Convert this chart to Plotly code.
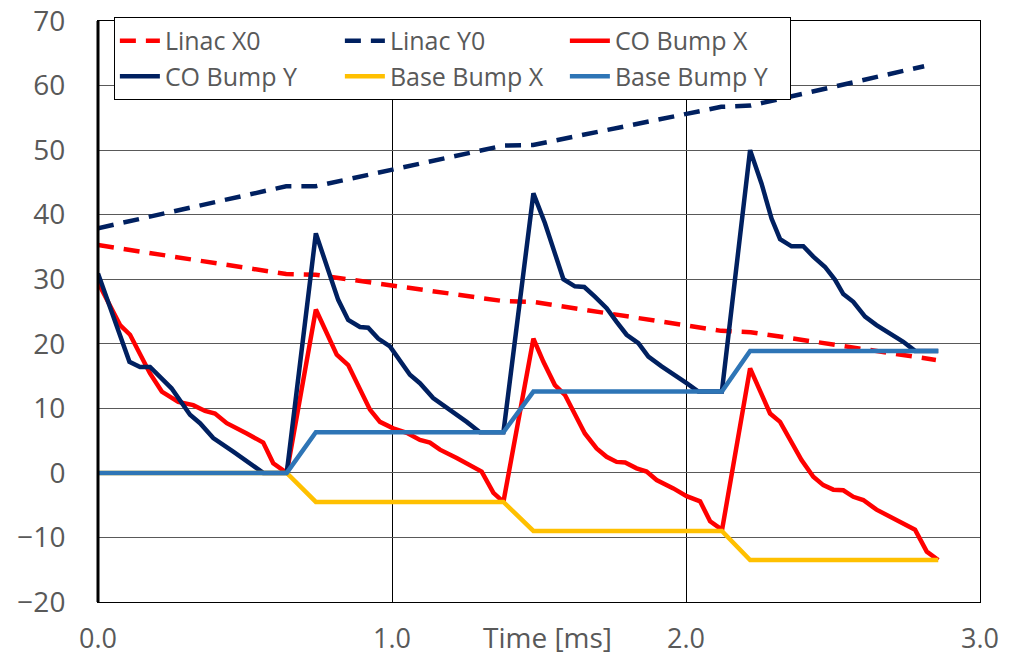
import plotly.graph_objects as go

# ---- data (time in ms) ----
linac_x0_t = [0.0, 0.64, 0.74, 1.38, 1.48, 2.12, 2.22, 2.85]
linac_x0_v = [35.3, 30.8, 30.7, 26.6, 26.5, 22.0, 21.8, 17.5]

linac_y0_t = [0.0, 0.64, 0.74, 1.38, 1.48, 2.12, 2.22, 2.81]
linac_y0_v = [37.9, 44.4, 44.4, 50.7, 50.8, 56.7, 56.9, 63.0]

co_x_t = [0.0, 0.075, 0.109, 0.177, 0.217, 0.273, 0.324, 0.364, 0.398, 0.438, 0.506, 0.562, 0.596, 0.63, 0.642,
          0.741, 0.778, 0.812, 0.851, 0.885, 0.925, 0.959, 1.004, 1.05, 1.095, 1.129, 1.163, 1.22, 1.265, 1.305, 1.345, 1.379,
          1.481, 1.515, 1.554, 1.588, 1.656, 1.696, 1.73, 1.764, 1.793, 1.832, 1.866, 1.9, 1.957, 2.002, 2.048, 2.082, 2.116, 2.122,
          2.218, 2.286, 2.32, 2.393, 2.433, 2.467, 2.501, 2.535, 2.569, 2.603, 2.648, 2.716, 2.779, 2.819, 2.852, 2.858]
co_x_v = [29.5, 22.9, 21.4, 15.4, 12.6, 11.0, 10.5, 9.6, 9.2, 7.7, 6.1, 4.7, 1.5, 0.5, 0.0,
          25.3, 21.6, 18.3, 16.7, 13.6, 9.8, 7.9, 6.9, 6.2, 5.1, 4.7, 3.6, 2.3, 1.2, 0.2, -3.1, -4.5,
          20.8, 17.2, 13.6, 12.1, 6.1, 3.8, 2.5, 1.7, 1.6, 0.7, 0.2, -1.1, -2.4, -3.6, -4.4, -7.5, -8.6, -9.0,
          16.2, 9.2, 7.9, 2.0, -0.6, -1.9, -2.6, -2.7, -3.7, -4.2, -5.7, -7.3, -8.8, -12.2, -13.2, -13.5]

co_y_t = [0.0, 0.107, 0.143, 0.177, 0.25, 0.313, 0.347, 0.392, 0.46, 0.528, 0.562, 0.642,
          0.741, 0.817, 0.851, 0.891, 0.919, 0.953, 0.993, 1.061, 1.095, 1.14, 1.197, 1.254, 1.299, 1.379,
          1.481, 1.52, 1.554, 1.583, 1.622, 1.654, 1.69, 1.73, 1.764, 1.798, 1.838, 1.872, 1.917, 1.963, 2.002, 2.042, 2.122,
          2.218, 2.257, 2.291, 2.32, 2.359, 2.399, 2.433, 2.473, 2.507, 2.535, 2.569, 2.609, 2.648, 2.694, 2.739, 2.779, 2.858]
co_y_v = [30.9, 17.2, 16.4, 16.4, 13.1, 9.0, 7.7, 5.4, 3.3, 1.2, 0.0, 0.0,
          37.1, 26.8, 23.7, 22.6, 22.5, 20.8, 19.6, 15.2, 13.9, 11.6, 9.8, 7.9, 6.3, 6.3,
          43.3, 38.7, 34.0, 30.0, 28.9, 28.8, 27.3, 25.5, 23.4, 21.4, 20.1, 18.0, 16.5, 15.2, 13.9, 12.6, 12.6,
          50.0, 44.8, 39.4, 36.2, 35.1, 35.1, 33.5, 31.9, 29.9, 27.7, 26.5, 24.2, 22.9, 21.6, 20.3, 18.9, 18.9]

base_t = [0.0, 0.642, 0.741, 1.379, 1.481, 2.122, 2.218, 2.858]
base_x_v = [0.0, 0.0, -4.5, -4.5, -9.0, -9.0, -13.5, -13.5]
base_y_v = [0.0, 0.0, 6.3, 6.3, 12.6, 12.6, 18.9, 18.9]

x_ticks = [0, 1, 2, 3]
x_tick_labels = ["0.0", "1.0", "2.0", "3.0"]

RED = "#FF0000"
NAVY = "#002060"
YELLOW = "#FFC000"
BLUE = "#2E75B6"
GREY = "#595959"
FONT = "Open Sans"

fig = go.Figure()
fig.add_trace(go.Scatter(x=linac_x0_t, y=linac_x0_v, mode="lines", name="Linac X0",
                         line=dict(color=RED, width=4.5, dash="16px,10px")))
fig.add_trace(go.Scatter(x=linac_y0_t, y=linac_y0_v, mode="lines", name="Linac Y0",
                         line=dict(color=NAVY, width=4.5, dash="16px,10px")))
fig.add_trace(go.Scatter(x=co_x_t, y=co_x_v, mode="lines", name="CO Bump X",
                         line=dict(color=RED, width=4.5)))
fig.add_trace(go.Scatter(x=co_y_t, y=co_y_v, mode="lines", name="CO Bump Y",
                         line=dict(color=NAVY, width=4.5)))
fig.add_trace(go.Scatter(x=base_t, y=base_x_v, mode="lines", name="Base Bump X",
                         line=dict(color=YELLOW, width=4.5)))
fig.add_trace(go.Scatter(x=base_t, y=base_y_v, mode="lines", name="Base Bump Y",
                         line=dict(color=BLUE, width=4.5)))

fig.update_layout(
    width=1021, height=656,
    margin=dict(l=98, r=41, t=21, b=54),
    paper_bgcolor="white", plot_bgcolor="white",
    font=dict(family=FONT, color=GREY, size=26),
    showlegend=True,
    legend=dict(
        orientation="h", x=0.018, y=1.007, xanchor="left", yanchor="top",
        entrywidth=170, entrywidthmode="pixels", itemwidth=40,
        bgcolor="white", bordercolor="black", borderwidth=1,
        font=dict(family=FONT, color=GREY, size=25),
        traceorder="normal",
    ),
    xaxis=dict(
        range=[0, 3], tickvals=x_ticks, ticktext=x_tick_labels,
        showgrid=True, gridcolor="black", gridwidth=1, zeroline=False,
        showline=True, linecolor="black", linewidth=1, mirror=True,
        ticks="outside", ticklen=13, tickcolor="rgba(0,0,0,0)",
        tickfont=dict(family=FONT, color=GREY, size=27), automargin=False,
    ),
    yaxis=dict(
        range=[-20, 70], dtick=10,
        showgrid=True, gridcolor="#595959", gridwidth=1, zeroline=False,
        showline=True, linecolor="black", linewidth=1, mirror=True,
        ticks="outside", ticklen=26, tickcolor="rgba(0,0,0,0)",
        tickfont=dict(family=FONT, color=GREY, size=28), automargin=False,
    ),
    shapes=[dict(type="line", xref="x domain", yref="y domain", x0=0, x1=0, y0=0, y1=1,
                 line=dict(color="black", width=3), layer="above")],
    annotations=[dict(text="Time [ms]", xref="paper", yref="paper", x=0.51, y=0,
                      xanchor="center", yanchor="top", yshift=-14, showarrow=False,
                      font=dict(family=FONT, color=GREY, size=28))],
)

fig.write_html("out.html", config={"displayModeBar": False},
               post_script="document.body.style.margin='0';")
